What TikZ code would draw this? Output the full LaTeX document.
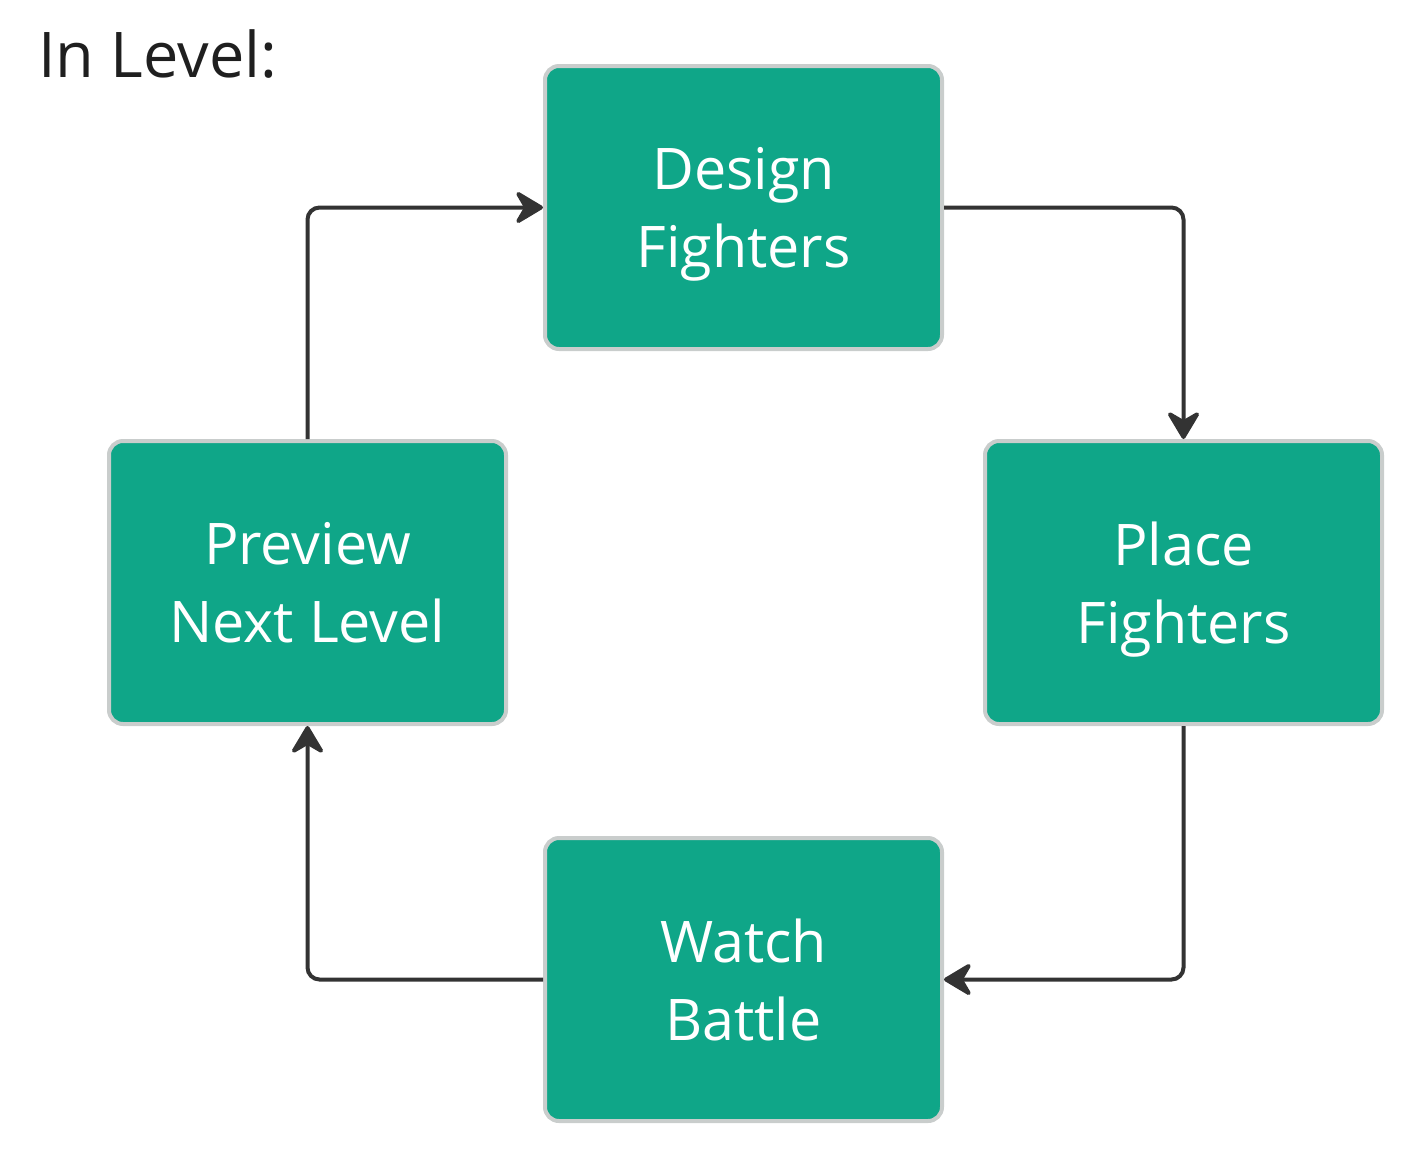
\documentclass[tikz,border=0pt]{standalone}
\usepackage{fontspec}
\setmainfont{Open Sans}
\usetikzlibrary{arrows.meta}
\definecolor{boxgreen}{HTML}{0FA688}
\definecolor{boxrim}{HTML}{C9CDCC}
\definecolor{wire}{HTML}{333333}

\begin{document}
\begin{tikzpicture}[x=0.5pt,y=-0.5pt,
    stagebox/.style={draw=boxrim,line width=2pt,fill=boxgreen,rounded corners=7pt,
        minimum width=198.5pt,minimum height=141.5pt,text=white,align=center,
        text depth=0pt,font=\fontsize{28.7}{39}\selectfont},
    flow/.style={draw=wire,line width=2pt,rounded corners=6pt,
        -{Stealth[length=16pt,width=19pt,inset=5.5pt,round]}}]
        \useasboundingbox (0,0) rectangle (1425,1164);
		\node[anchor=base west,text=black!88,font=\fontsize{31.5}{38}\selectfont] (title) at (31,77) {In Level:};
		\node[stagebox] (design) at (743.5,207.5) {Design\\Fighters};
		\node[stagebox] (place) at (1183.5,582.5) {Place\\Fighters};
		\node[stagebox] (watch) at (743.5,979.5) {Watch\\Battle};
		\node[stagebox] (preview) at (307.5,582.5) {Preview\\Next Level};
		\draw[flow] (design.east) -| (place.north);
		\draw[flow] (place.south) |- (watch.east);
		\draw[flow] (watch.west) -| (preview.south);
		\draw[flow] (preview.north) |- (design.west);
\end{tikzpicture}
\end{document}
